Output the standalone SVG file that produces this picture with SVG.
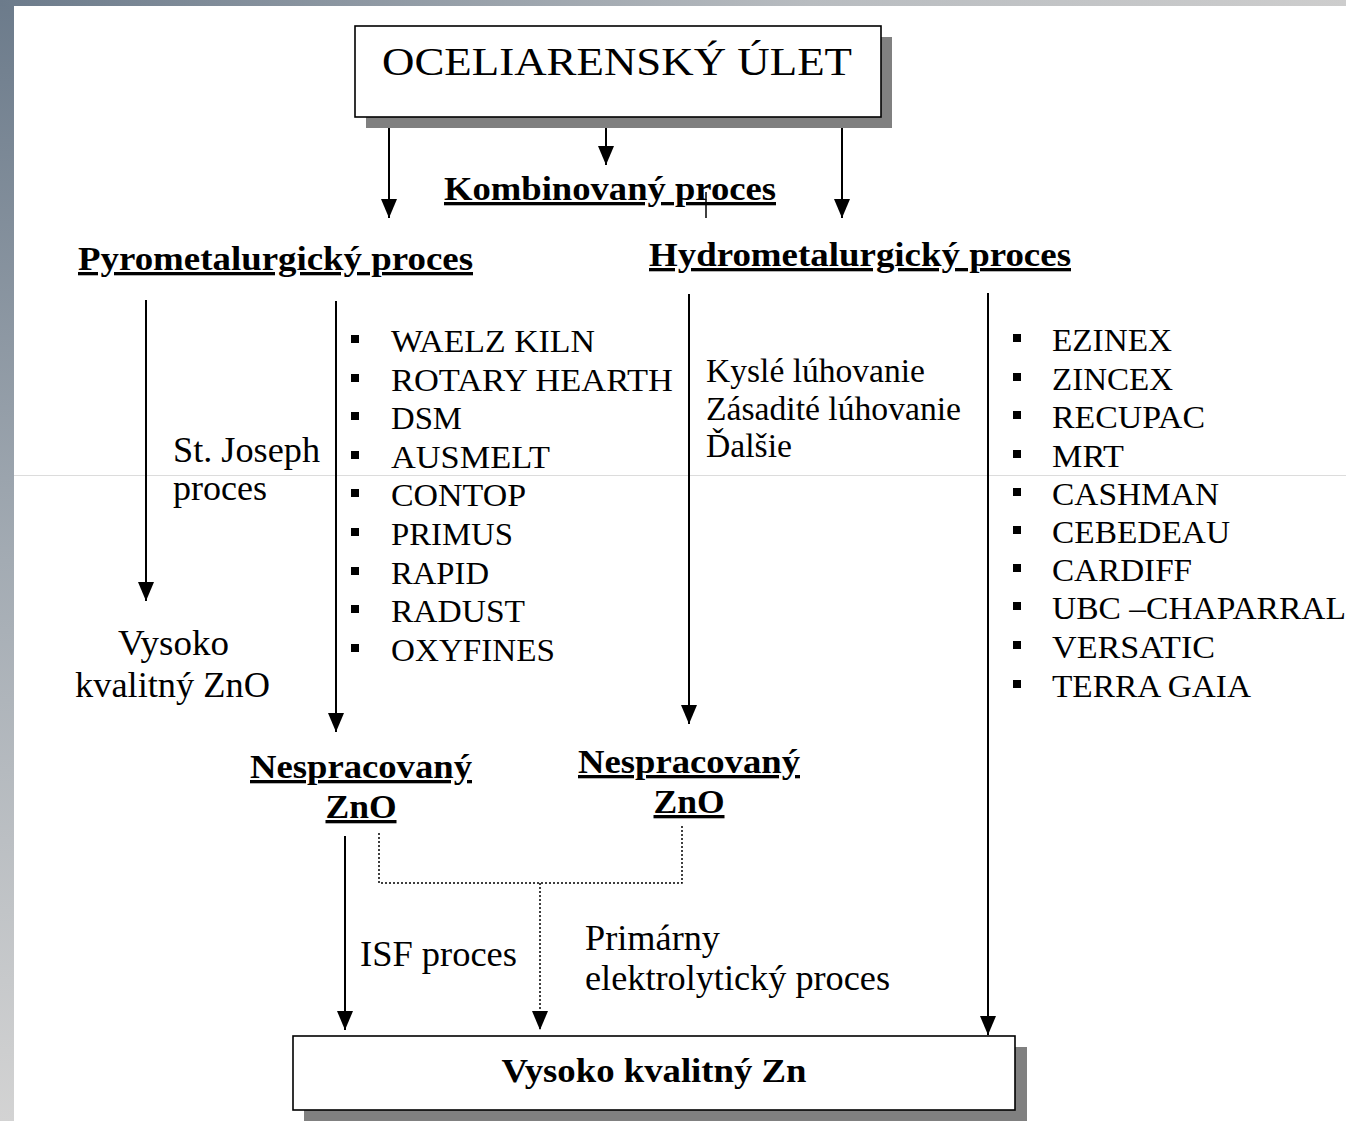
<svg xmlns="http://www.w3.org/2000/svg" width="1346" height="1121" viewBox="0 0 1346 1121">
  <defs>
    <linearGradient id="gl" x1="0" y1="0" x2="0" y2="1">
      <stop offset="0" stop-color="#6c7b8b"/>
      <stop offset="0.5" stop-color="#a3abb3"/>
      <stop offset="1" stop-color="#d3d3d3"/>
    </linearGradient>
    <linearGradient id="gt" x1="0" y1="0" x2="1" y2="0">
      <stop offset="0" stop-color="#6c7b8b"/>
      <stop offset="0.6" stop-color="#b8bcc0"/>
      <stop offset="1" stop-color="#cdcdcd"/>
    </linearGradient>
    <marker id="ah" markerUnits="userSpaceOnUse" markerWidth="19" markerHeight="16" refX="19" refY="8" orient="auto" viewBox="0 0 19 16">
      <path d="M0,0 L19,8 L0,16 Z" fill="#000"/>
    </marker>
    <style>
      .box{fill:#fff;stroke:#000;stroke-width:1.6}
      .sh{fill:#808080}
      .ln{stroke:#000;stroke-width:2;fill:none}
      .dt{stroke:#000;stroke-width:1.5;fill:none;stroke-dasharray:2 2}
      .t{font-family:"Liberation Serif","Times New Roman",serif;fill:#000}
      .b{font-weight:bold;text-decoration:underline}
      .r{font-size:31px}
      .m{font-size:35px}
      .h{font-size:33px}
      .bl{fill:#000}
    </style>
  </defs>

  <!-- background slide -->
  <rect x="0" y="0" width="1346" height="1121" fill="#fff"/>
  <rect x="0" y="0" width="14" height="1121" fill="url(#gl)"/>
  <rect x="0" y="0" width="1346" height="6" fill="url(#gt)"/>
  <line x1="14" y1="475.5" x2="1346" y2="475.5" stroke="#dcdcdc" stroke-width="1"/>

  <g id="connectors">
    <line class="ln" x1="389" y1="118" x2="389" y2="218" marker-end="url(#ah)"/>
    <line class="ln" x1="606" y1="122" x2="606" y2="165" marker-end="url(#ah)"/>
    <line class="ln" x1="842" y1="118" x2="842" y2="218" marker-end="url(#ah)"/>
    <line x1="706" y1="192" x2="706" y2="218" stroke="#000" stroke-width="1.5"/>
    <line class="ln" x1="146" y1="300" x2="146" y2="601" marker-end="url(#ah)"/>
    <line class="ln" x1="336" y1="301" x2="336" y2="732" marker-end="url(#ah)"/>
    <line class="ln" x1="689" y1="294" x2="689" y2="724" marker-end="url(#ah)"/>
    <line class="ln" x1="988" y1="293" x2="988" y2="1035" marker-end="url(#ah)"/>
    <line class="ln" x1="345" y1="836" x2="345" y2="1030" marker-end="url(#ah)"/>
    <polyline class="dt" points="379,833 379,883 682,883 682,826"/>
    <line class="dt" x1="540" y1="883" x2="540" y2="1030" marker-end="url(#ah)"/>
  </g>

  <g id="node-ocel">
    <rect class="sh" x="366" y="37" width="526" height="91"/>
    <rect class="box" x="355" y="26" width="526" height="91"/>
    <text class="t" x="617" y="75" font-size="40" text-anchor="middle" textLength="470" lengthAdjust="spacingAndGlyphs">OCELIARENSKÝ ÚLET</text>
  </g>

  <g id="node-komb">
    <text class="t b h" x="444" y="200" textLength="332" lengthAdjust="spacingAndGlyphs">Kombinovaný proces</text>
  </g>

  <g id="node-pyro">
    <text class="t b h" x="78" y="270" textLength="395" lengthAdjust="spacingAndGlyphs">Pyrometalurgický proces</text>
  </g>

  <g id="node-hydro">
    <text class="t b h" x="649" y="266" textLength="422" lengthAdjust="spacingAndGlyphs">Hydrometalurgický proces</text>
  </g>

  <g id="label-stjoseph">
    <text class="t m" x="173" y="462" textLength="147" lengthAdjust="spacingAndGlyphs">St. Joseph</text>
    <text class="t m" x="173" y="500" textLength="94" lengthAdjust="spacingAndGlyphs">proces</text>
  </g>

  <g id="node-znoq">
    <text class="t m" x="118" y="655" textLength="111" lengthAdjust="spacingAndGlyphs">Vysoko</text>
    <text class="t m" x="75" y="697" textLength="195" lengthAdjust="spacingAndGlyphs">kvalitný ZnO</text>
  </g>

  <g id="list-pyro">
    <rect class="bl" x="351" y="335" width="8" height="8"/>
    <rect class="bl" x="351" y="374" width="8" height="8"/>
    <rect class="bl" x="351" y="412" width="8" height="8"/>
    <rect class="bl" x="351" y="451" width="8" height="8"/>
    <rect class="bl" x="351" y="489" width="8" height="8"/>
    <rect class="bl" x="351" y="528" width="8" height="8"/>
    <rect class="bl" x="351" y="567" width="8" height="8"/>
    <rect class="bl" x="351" y="605" width="8" height="8"/>
    <rect class="bl" x="351" y="644" width="8" height="8"/>
    <text class="t r" x="391" y="352" textLength="204" lengthAdjust="spacingAndGlyphs">WAELZ KILN</text>
    <text class="t r" x="391" y="391" textLength="282" lengthAdjust="spacingAndGlyphs">ROTARY HEARTH</text>
    <text class="t r" x="391" y="429" textLength="71" lengthAdjust="spacingAndGlyphs">DSM</text>
    <text class="t r" x="391" y="468" textLength="159" lengthAdjust="spacingAndGlyphs">AUSMELT</text>
    <text class="t r" x="391" y="506" textLength="135" lengthAdjust="spacingAndGlyphs">CONTOP</text>
    <text class="t r" x="391" y="545" textLength="122" lengthAdjust="spacingAndGlyphs">PRIMUS</text>
    <text class="t r" x="391" y="584" textLength="98" lengthAdjust="spacingAndGlyphs">RAPID</text>
    <text class="t r" x="391" y="622" textLength="134" lengthAdjust="spacingAndGlyphs">RADUST</text>
    <text class="t r" x="391" y="661" textLength="164" lengthAdjust="spacingAndGlyphs">OXYFINES</text>
  </g>

  <g id="list-leach">
    <text class="t h" x="706" y="382" textLength="219" lengthAdjust="spacingAndGlyphs">Kyslé lúhovanie</text>
    <text class="t h" x="706" y="420" textLength="255" lengthAdjust="spacingAndGlyphs">Zásadité lúhovanie</text>
    <text class="t h" x="706" y="457" textLength="86" lengthAdjust="spacingAndGlyphs">Ďalšie</text>
  </g>

  <g id="list-hydro">
    <rect class="bl" x="1013" y="334" width="8" height="8"/>
    <rect class="bl" x="1013" y="373" width="8" height="8"/>
    <rect class="bl" x="1013" y="411" width="8" height="8"/>
    <rect class="bl" x="1013" y="450" width="8" height="8"/>
    <rect class="bl" x="1013" y="488" width="8" height="8"/>
    <rect class="bl" x="1013" y="526" width="8" height="8"/>
    <rect class="bl" x="1013" y="564" width="8" height="8"/>
    <rect class="bl" x="1013" y="602" width="8" height="8"/>
    <rect class="bl" x="1013" y="641" width="8" height="8"/>
    <rect class="bl" x="1013" y="680" width="8" height="8"/>
    <text class="t r" x="1052" y="351" textLength="120" lengthAdjust="spacingAndGlyphs">EZINEX</text>
    <text class="t r" x="1052" y="390" textLength="121" lengthAdjust="spacingAndGlyphs">ZINCEX</text>
    <text class="t r" x="1052" y="428" textLength="153" lengthAdjust="spacingAndGlyphs">RECUPAC</text>
    <text class="t r" x="1052" y="467" textLength="72" lengthAdjust="spacingAndGlyphs">MRT</text>
    <text class="t r" x="1052" y="505" textLength="167" lengthAdjust="spacingAndGlyphs">CASHMAN</text>
    <text class="t r" x="1052" y="543" textLength="178" lengthAdjust="spacingAndGlyphs">CEBEDEAU</text>
    <text class="t r" x="1052" y="581" textLength="140" lengthAdjust="spacingAndGlyphs">CARDIFF</text>
    <text class="t r" x="1052" y="619" textLength="294" lengthAdjust="spacingAndGlyphs">UBC –CHAPARRAL</text>
    <text class="t r" x="1052" y="658" textLength="163" lengthAdjust="spacingAndGlyphs">VERSATIC</text>
    <text class="t r" x="1052" y="697" textLength="199" lengthAdjust="spacingAndGlyphs">TERRA GAIA</text>
  </g>

  <g id="node-nesp-left">
    <text class="t b h" x="361" y="778" text-anchor="middle" textLength="222" lengthAdjust="spacingAndGlyphs">Nespracovaný</text>
    <text class="t b h" x="361" y="818" text-anchor="middle" textLength="71" lengthAdjust="spacingAndGlyphs">ZnO</text>
  </g>

  <g id="node-nesp-right">
    <text class="t b h" x="689" y="773" text-anchor="middle" textLength="222" lengthAdjust="spacingAndGlyphs">Nespracovaný</text>
    <text class="t b h" x="689" y="813" text-anchor="middle" textLength="71" lengthAdjust="spacingAndGlyphs">ZnO</text>
  </g>

  <g id="label-isf">
    <text class="t m" x="360" y="966" textLength="157" lengthAdjust="spacingAndGlyphs">ISF proces</text>
  </g>

  <g id="label-primarny">
    <text class="t m" x="585" y="950" textLength="135" lengthAdjust="spacingAndGlyphs">Primárny</text>
    <text class="t m" x="585" y="990" textLength="305" lengthAdjust="spacingAndGlyphs">elektrolytický proces</text>
  </g>

  <g id="node-zn">
    <rect class="sh" x="304" y="1047" width="723" height="74"/>
    <rect class="box" x="293" y="1036" width="722" height="74"/>
    <text class="t" x="654" y="1082" font-size="33" font-weight="bold" text-anchor="middle" textLength="305" lengthAdjust="spacingAndGlyphs">Vysoko kvalitný Zn</text>
  </g>
</svg>
